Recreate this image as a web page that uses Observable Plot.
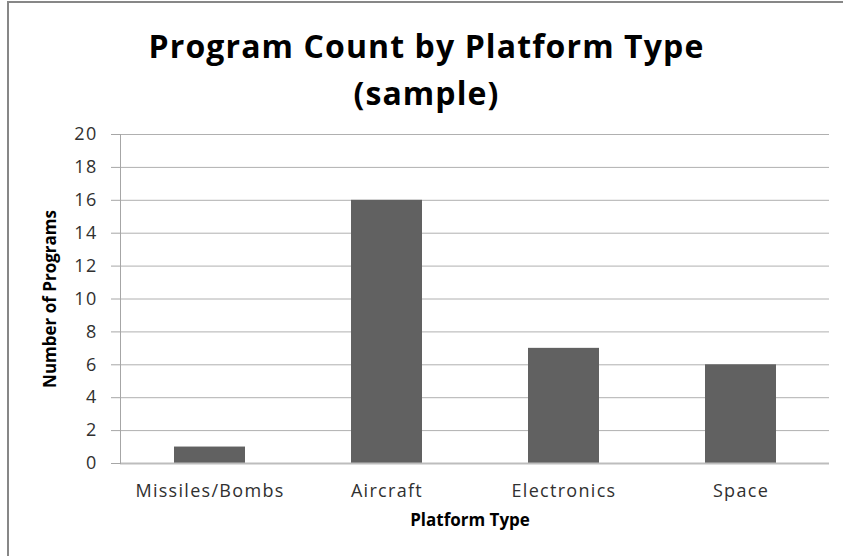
<!DOCTYPE html>
<html>
<head>
<meta charset="utf-8">
<script src="https://cdn.jsdelivr.net/npm/d3@7"></script>
<script src="https://cdn.jsdelivr.net/npm/@observablehq/plot@0.6"></script>
<style>
  html, body { margin: 0; padding: 0; background: #fff; overflow: hidden; }
  #wrap { position: relative; width: 843px; height: 556px; overflow: hidden; background: #fff; }
  #frame { position: absolute; left: 7px; top: 1px; width: 1000px; height: 700px;
           border-left: 2px solid #878787; border-top: 2px solid #878787; box-sizing: border-box; }
  #title { position: absolute; left: 0; top: 22px; width: 843px; padding-left: 10px; box-sizing: border-box;
           text-align: center; font-family: "Open Sans", sans-serif; font-weight: 700; font-size: 32px;
           line-height: 47px; letter-spacing: 1.1px; color: #000; }
  #chart { position: absolute; left: 0; top: 0; }
  #chart svg { font-family: "Open Sans", sans-serif; }
  #chart g[aria-label="y-axis tick label"] text,
  #chart g[aria-label="x-axis tick label"] text { letter-spacing: 1.3px; }
</style>
</head>
<body>
<div id="wrap">
  <div id="frame"></div>
  <div id="chart"></div>
  <div id="title">Program Count by Platform Type<br>(sample)</div>
</div>
<script>
const categories = ["Missiles/Bombs", "Aircraft", "Electronics", "Space"];
const counts = [1, 16, 7, 6];
const yTicks = [0, 2, 4, 6, 8, 10, 12, 14, 16, 18, 20];
const xTitle = "Platform Type";
const yTitle = "Number of Programs";

const data = categories.map((c, i) => ({category: c, count: counts[i]}));

const chart = Plot.plot({
  width: 843,
  height: 556,
  marginTop: 134,
  marginBottom: 93,
  marginLeft: 120,
  marginRight: 14,
  style: {fontFamily: "Open Sans, sans-serif", fontSize: "18px", color: "#303030", background: "transparent"},
  x: {domain: categories, paddingInner: 0.6, paddingOuter: 0.3, label: null},
  y: {domain: [0, 20], label: null},
  marks: [
    Plot.gridY(yTicks, {stroke: "#b0b0b0", strokeOpacity: 1, strokeWidth: 1}),
    Plot.barY(data, {x: "category", y: "count", fill: "#616161"}),
    Plot.ruleY([0], {stroke: "#bdbdbd", strokeWidth: 2}),
    Plot.frame({anchor: "left", stroke: "#a6a6a6", strokeWidth: 1}),
    Plot.axisY({ticks: yTicks, tickSize: 9, tickPadding: 14, stroke: "#a6a6a6", fontSize: 18, fill: "#303030", label: null}),
    Plot.axisX({tickSize: 0, tickPadding: 21, fontSize: 18, fill: "#303030", label: null}),
    Plot.text([xTitle], {frameAnchor: "bottom", textAnchor: "middle", dx: -5, dy: 62, fontWeight: "bold", fontSize: 17, letterSpacing: 0.5, fill: "#000", text: d => d}),
    Plot.text([yTitle], {frameAnchor: "left", textAnchor: "middle", dx: -70, rotate: -90, fontWeight: "bold", fontSize: 17, fill: "#000", text: d => d})
  ]
});
document.getElementById("chart").appendChild(chart);
</script>
</body>
</html>
